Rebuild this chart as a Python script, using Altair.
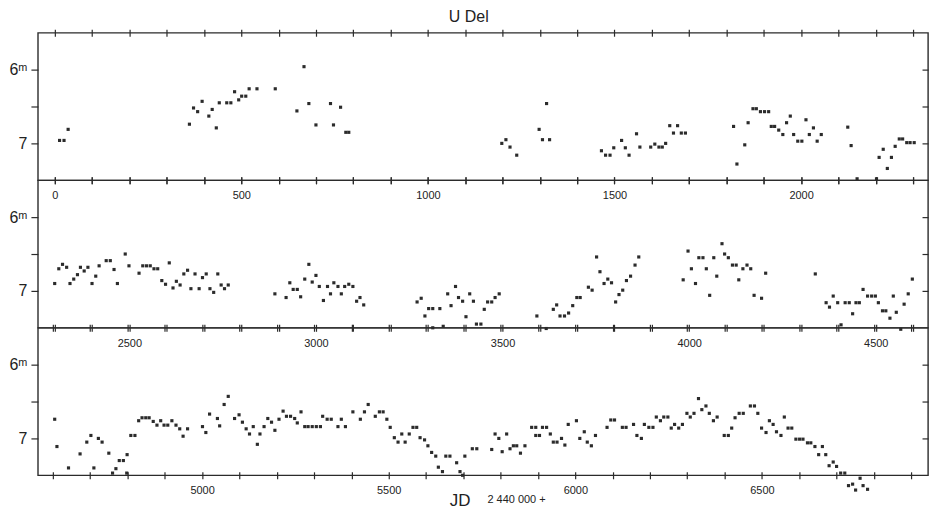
import altair as alt
import pandas as pd

# ---- Panel 1: JD 2440000 + (-45 .. 2340)
jd1 = [13, 25, 36,
       361, 372, 383, 395, 413, 422, 433, 441, 461, 472, 482, 493, 501, 512, 521, 542, 591,
       649, 668, 681, 700, 739, 747, 766, 780, 788,
       1198, 1209, 1220, 1238, 1298, 1307, 1318, 1326,
       1465, 1476, 1488, 1498, 1519, 1529, 1539, 1559, 1568, 1597, 1608, 1619, 1628, 1637,
       1648, 1658, 1669, 1679, 1690,
       1819, 1828, 1849, 1858, 1871, 1880, 1891, 1902, 1913, 1920, 1929, 1940, 1951, 1961,
       1971, 1980, 1991, 2002, 2013, 2022, 2033, 2043, 2054,
       2125, 2134, 2150, 2202, 2209, 2220, 2231, 2242, 2252, 2263, 2272, 2283, 2292, 2303]
mag1 = [6.96, 6.96, 6.81,
        6.74, 6.52, 6.57, 6.43, 6.63, 6.54, 6.79, 6.45, 6.45, 6.45, 6.30, 6.41, 6.36, 6.36, 6.26, 6.26, 6.26,
        6.56, 5.96, 6.46, 6.75, 6.46, 6.75, 6.51, 6.85, 6.85,
        7.00, 6.95, 7.05, 7.16, 6.81, 6.95, 6.46, 6.95,
        7.10, 7.16, 7.16, 7.06, 6.96, 7.06, 7.16, 6.87, 7.05, 7.05, 7.01, 7.05, 7.05, 7.00,
        6.76, 6.86, 6.76, 6.86, 6.86,
        6.77, 7.28, 7.02, 6.72, 6.53, 6.53, 6.57, 6.57, 6.57, 6.77, 6.77, 6.82, 6.88, 6.72,
        6.63, 6.88, 6.97, 6.97, 6.68, 6.88, 6.79, 6.97, 6.88,
        6.78, 7.03, 7.48, 7.48, 7.19, 7.08, 7.34, 7.19, 7.04, 6.94, 6.94, 6.99, 6.99, 6.99]

# ---- Panel 2: (2255 .. 4640)
jd2 = [2300, 2311, 2321, 2332, 2341, 2351, 2361, 2369, 2379, 2389, 2400, 2410, 2419, 2438, 2449,
       2459, 2468, 2489, 2499, 2526, 2536, 2546, 2556, 2566, 2576, 2587, 2597, 2607, 2617, 2626,
       2636, 2646, 2656, 2665, 2676, 2687, 2696, 2706, 2716, 2726, 2737, 2746, 2755, 2765,
       2890, 2920, 2930, 2939, 2950, 2959, 2970, 2981, 2990, 3000, 3009, 3020, 3031, 3039, 3048,
       3059, 3068, 3077, 3088, 3099, 3109, 3118, 3128,
       3271, 3282, 3292, 3302, 3313, 3313, 3332, 3341, 3353, 3362, 3374, 3382, 3393, 3402, 3412,
       3422, 3430, 3442, 3451, 3460, 3471, 3480, 3491,
       3592, 3617, 3636, 3645, 3654, 3666, 3677, 3688, 3699, 3708, 3730, 3740, 3752, 3761, 3772,
       3782, 3792, 3803, 3812, 3822, 3832, 3843, 3855, 3865,
       3984, 3997, 4006, 4017, 4026, 4037, 4046, 4055, 4066, 4074, 4088, 4095, 4105, 4116, 4126,
       4133, 4144, 4155, 4165, 4174, 4194, 4205,
       4338, 4367, 4376, 4386, 4398, 4407, 4418, 4429, 4438, 4447, 4456, 4466, 4478, 4489, 4499,
       4507, 4518, 4527, 4538, 4547, 4555, 4567, 4576, 4587, 4598]
mag2 = [6.90, 6.70, 6.64, 6.68, 6.90, 6.84, 6.78, 6.68, 6.73, 6.68, 6.90, 6.80, 6.66, 6.59, 6.59,
        6.71, 6.90, 6.50, 6.66, 6.76, 6.66, 6.66, 6.66, 6.70, 6.70, 6.86, 6.91, 6.62, 6.96, 6.87,
        6.92, 6.77, 6.72, 6.97, 6.77, 6.97, 6.82, 6.77, 6.97, 7.02, 6.77, 6.92, 6.97, 6.92,
        7.04, 7.09, 6.89, 6.98, 6.98, 7.08, 6.84, 6.64, 6.88, 6.79, 6.94, 7.13, 6.94, 7.04, 6.89,
        6.94, 7.04, 6.94, 6.91, 6.94, 7.14, 7.09, 7.19,
        7.15, 7.10, 7.34, 7.24, 7.24, 7.50, 7.24, 7.48, 7.04, 7.20, 6.94, 7.09, 7.14, 7.35, 7.04,
        7.14, 7.45, 7.45, 7.25, 7.15, 7.15, 7.09, 7.04,
        7.34, 7.51, 7.25, 7.19, 7.34, 7.34, 7.30, 7.20, 7.09, 7.09, 6.95, 6.99, 6.54, 6.74, 6.90,
        6.84, 6.89, 7.15, 7.05, 6.99, 6.86, 6.80, 6.65, 6.54,
        6.85, 6.46, 6.70, 6.90, 6.55, 6.55, 6.70, 7.06, 6.55, 6.80, 6.36, 6.50, 6.55, 6.65, 6.65,
        6.85, 6.70, 6.65, 6.70, 7.06, 7.10, 6.76,
        6.77, 7.16, 7.22, 7.07, 7.16, 7.46, 7.16, 7.16, 7.31, 7.16, 7.16, 6.98, 7.07, 7.07, 7.07,
        7.16, 7.27, 7.27, 7.37, 7.07, 7.29, 7.52, 7.18, 7.04, 6.84]

# ---- Panel 3: (4560 .. 6945)
jd3 = [4605, 4611, 4642, 4673, 4691, 4702, 4710, 4722, 4732, 4750, 4760, 4769, 4778, 4789, 4798,
       4799, 4809, 4820, 4830, 4839, 4849, 4858, 4869, 4879, 4889, 4898, 4908, 4919, 4930, 4940,
       4949, 4961, 5001, 5010, 5020, 5041, 5047, 5059, 5070, 5087, 5099, 5108, 5118, 5127, 5137,
       5148, 5155, 5166, 5176, 5186, 5195, 5206, 5217, 5226, 5237, 5248, 5255, 5265, 5275, 5284,
       5295, 5306, 5317, 5323, 5335, 5346, 5364, 5373, 5384, 5404, 5424, 5435, 5445, 5464, 5475,
       5485, 5495, 5504, 5515, 5525, 5535, 5544, 5555, 5565, 5575, 5584, 5596, 5605, 5615, 5626,
       5633, 5644, 5653, 5664, 5682, 5691, 5698, 5704, 5724, 5736,
       5776, 5785, 5795, 5804, 5816, 5825, 5834, 5843, 5853, 5865, 5883, 5894, 5894, 5904, 5912,
       5923, 5933, 5941, 5951, 5963, 5972, 5981, 6003, 6012, 6024, 6032, 6043, 6054, 6085, 6095,
       6105, 6126, 6136, 6156, 6165, 6177, 6185, 6197, 6208, 6217, 6228, 6237, 6248, 6257, 6266,
       6277, 6287, 6299, 6308, 6318, 6330, 6339, 6350, 6359, 6370, 6380, 6399, 6410, 6419, 6428,
       6439, 6450, 6469, 6480, 6489, 6499, 6511, 6520, 6530, 6539, 6551, 6560, 6570, 6580, 6591,
       6601, 6610, 6622, 6631, 6642, 6652, 6662, 6671, 6680, 6691, 6700, 6711, 6722, 6732, 6743,
       6751, 6763, 6771, 6783]
mag3 = [6.74, 7.11, 7.40, 7.21, 7.05, 6.96, 7.40, 7.00, 7.05, 7.20, 7.47, 7.41, 7.30, 7.30, 7.47,
        7.22, 6.96, 6.96, 6.76, 6.72, 6.72, 6.72, 6.77, 6.82, 6.76, 6.82, 6.82, 6.76, 6.82, 6.87,
        6.97, 6.87, 6.84, 6.92, 6.67, 6.73, 6.83, 6.54, 6.43, 6.73, 6.68, 6.78, 6.87, 6.94, 6.84,
        7.08, 6.94, 6.84, 6.73, 6.78, 6.89, 6.74, 6.63, 6.70, 6.70, 6.73, 6.79, 6.64, 6.84, 6.84,
        6.84, 6.84, 6.84, 6.70, 6.74, 6.74, 6.84, 6.74, 6.84, 6.64, 6.74, 6.64, 6.54, 6.70, 6.64,
        6.64, 6.74, 6.85, 6.99, 7.05, 6.94, 7.05, 6.94, 6.85, 6.85, 6.99, 7.02, 7.10, 7.19, 7.24,
        7.39, 7.45, 7.24, 7.24, 7.33, 7.45, 7.50, 7.24, 7.14, 7.14,
        7.15, 6.94, 7.00, 7.18, 6.94, 7.14, 7.10, 7.10, 7.20, 7.10, 6.85, 6.85, 6.96, 6.96, 6.85,
        6.85, 6.94, 7.05, 7.05, 7.00, 7.09, 6.81, 6.76, 7.00, 6.91, 7.05, 7.10, 6.96, 6.85, 6.75,
        6.75, 6.85, 6.85, 6.81, 6.96, 7.00, 6.81, 6.85, 6.85, 6.71, 6.76, 6.71, 6.71, 6.86, 6.81,
        6.86, 6.81, 6.66, 6.71, 6.66, 6.46, 6.61, 6.56, 6.66, 6.76, 6.71, 6.96, 6.96, 6.86, 6.72,
        6.66, 6.66, 6.56, 6.56, 6.66, 6.86, 6.92, 6.76, 6.81, 6.91, 6.96, 6.71, 6.86, 6.86, 7.01,
        7.01, 7.01, 7.06, 7.06, 7.11, 7.22, 7.11, 7.22, 7.37, 7.32, 7.38, 7.47, 7.47, 7.64, 7.62,
        7.70, 7.54, 7.64, 7.69]

x_domains = [[-45, 2340], [2255, 4640], [4560, 6945]]
y_domain = [5.5, 7.5]
y_ticks = [6, 6.5, 7]
title_text = "U Del"
x_title = "JD"
x_title_suffix = "2 440 000 +"

FONT = "Liberation Sans"
INK = "#2b2b2b"
W, H = 893, 148


def panel(jd, mag, dom, last):
    df = pd.DataFrame({"jd": jd, "mag": mag})
    xs = alt.Scale(domain=dom, nice=False, zero=False)
    ys = alt.Scale(domain=y_domain, reverse=True, nice=False, zero=False)
    start = (dom[0] // 100 + 1) * 100
    ticks = list(range(start, dom[1] + 1, 100))
    base = alt.Chart(df)
    bottom_axis = dict(
        orient="bottom", values=ticks,
        labelExpr="datum.value % 500 == 0 ? format(datum.value, 'd') : ''",
        domain=False, offset=-3.5, tickSize=7, tickWidth=1.2, tickColor=INK,
        labelFont=FONT, labelFontSize=11, labelColor="#222", labelPadding=6,
        grid=False,
    )
    if last:
        bottom_axis.update(title=x_title, titleFont=FONT, titleFontSize=17,
                           titleFontWeight="normal", titleColor="#222",
                           titleX=423, titleY=29, titleBaseline="middle")
    else:
        bottom_axis.update(title=None)
    pts = base.mark_square(size=10, color=INK, opacity=1).encode(
        x=alt.X("jd:Q", scale=xs, axis=alt.Axis(**bottom_axis)),
        y=alt.Y("mag:Q", scale=ys, axis=alt.Axis(
            orient="left", values=y_ticks, title=None, domain=False,
            labelExpr="datum.value == 6 ? '6\u1d50' : (datum.value == 7 ? '7' : '')",
            tickSize=7, tickWidth=1.2, tickColor=INK, labelFont=FONT,
            labelFontSize=16, labelColor="#222", labelPadding=4, grid=False)),
    )
    ghost = base.mark_square(size=10, opacity=0).encode(
        x=alt.X("jd:Q", scale=xs, axis=alt.Axis(
            orient="top", values=ticks, labels=False, title=None, domain=False,
            offset=-3.5, tickSize=7, tickWidth=1.2, tickColor=INK, grid=False)),
        y=alt.Y("mag:Q", scale=ys, axis=alt.Axis(
            orient="right", values=y_ticks, labels=False, title=None, domain=False,
            offset=-6, tickSize=6, tickWidth=1.2, tickColor=INK, grid=False)),
    )
    layers = [pts, ghost]
    if last:
        suffix = alt.Chart(pd.DataFrame({"t": [x_title_suffix]})).mark_text(
            font=FONT, fontSize=11, color="#222", align="left", baseline="middle"
        ).encode(x=alt.value(451), y=alt.value(H + 25), text="t:N")
        layers.append(suffix)
    return alt.layer(*layers).resolve_axis(x="independent", y="independent").properties(
        width=W, height=H)


p1 = panel(jd1, mag1, x_domains[0], False)
p2 = panel(jd2, mag2, x_domains[1], False)
p3 = panel(jd3, mag3, x_domains[2], True)

chart = alt.vconcat(p1, p2, p3, spacing=0, bounds="flush").properties(
    title=alt.TitleParams(title_text, font=FONT, fontSize=16, fontWeight="normal",
                          color="#222", anchor="middle", offset=3),
    padding=0,
    background="white",
).configure_view(stroke=INK, strokeWidth=1.4)

chart.save("out.html", embed_options={"renderer": "svg", "actions": False})
